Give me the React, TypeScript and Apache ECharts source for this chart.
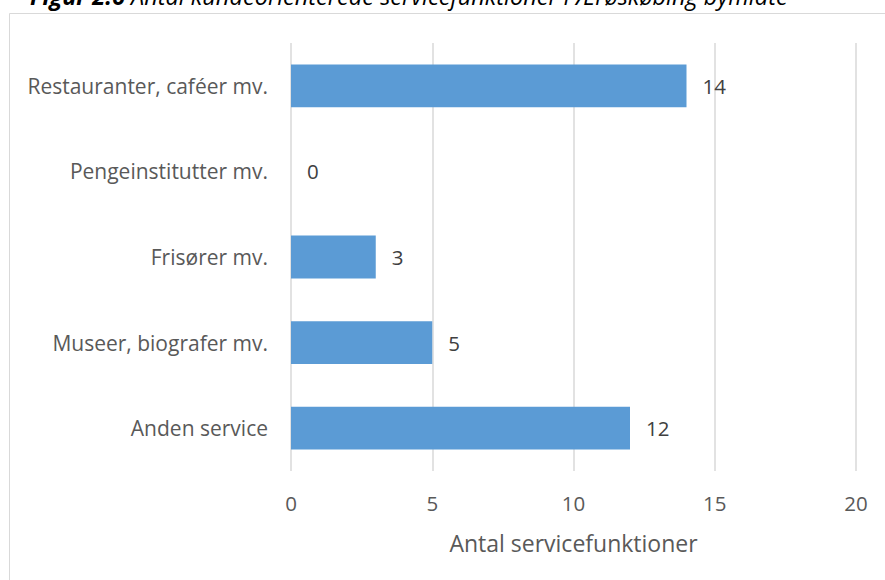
import React, { useEffect, useRef } from "react";
import * as echarts from "echarts";

const categories = [
  "Restauranter, caféer mv.",
  "Pengeinstitutter mv.",
  "Frisører mv.",
  "Museer, biografer mv.",
  "Anden service",
];
const values = [14, 0, 3, 5, 12];
const xTicks = [0, 5, 10, 15, 20];
const titleBold = "Figur 2.6";
const titleRest = " Antal kundeorienterede servicefunktioner i Ærøskøbing bymidte";
const axisName = "Antal servicefunktioner";

const FONT = "Open Sans";

export default function App() {
  const ref = useRef<HTMLDivElement>(null);
  useEffect(() => {
    document.body.style.margin = "0";
    const chart = echarts.init(ref.current!, null, { renderer: "svg" });
    chart.setOption({
      animation: false,
      backgroundColor: "#ffffff",
      grid: { left: 291, right: 29, top: 43, bottom: 109, containLabel: false },
      graphic: [
        {
          type: "rect",
          shape: { x: 9.5, y: 13.5, width: 900, height: 600 },
          style: { fill: "none", stroke: "#d9d9d9", lineWidth: 1 },
          silent: true,
        },
        {
          type: "text",
          x: 30,
          y: 7,
          style: {
            text: "{b|" + titleBold + "}{r|" + titleRest + "}",
            verticalAlign: "bottom",
            rich: {
              b: { fontFamily: FONT, fontSize: 23.5, fontStyle: "italic", fontWeight: "bold", fill: "#000" },
              r: { fontFamily: FONT, fontSize: 23.5, fontStyle: "italic", fill: "#000" },
            },
          },
        },
      ],
      xAxis: {
        type: "value",
        min: xTicks[0],
        max: xTicks[xTicks.length - 1],
        interval: 5,
        axisLine: { show: false },
        axisTick: { show: false },
        splitLine: { show: true, lineStyle: { color: "#d9d9d9", width: 1.5 } },
        axisLabel: { color: "#595959", fontFamily: FONT, fontSize: 20.5, margin: 21 },
        name: axisName,
        nameLocation: "middle",
        nameGap: 60,
        nameTextStyle: { color: "#595959", fontFamily: FONT, fontSize: 23 },
      },
      yAxis: {
        type: "category",
        data: categories,
        inverse: true,
        axisLine: { show: false },
        axisTick: { show: false },
        axisLabel: { color: "#595959", fontFamily: FONT, fontSize: 21, margin: 23 },
      },
      series: [
        {
          type: "bar",
          data: values,
          barWidth: "50%",
          itemStyle: { color: "#5b9bd5" },
          label: {
            show: true,
            position: "right",
            distance: 16,
            color: "#404040",
            fontFamily: FONT,
            fontSize: 20.5,
          },
        },
      ],
    });
    return () => chart.dispose();
  }, []);
  return <div ref={ref} style={{ width: 885, height: 580 }} />;
}
